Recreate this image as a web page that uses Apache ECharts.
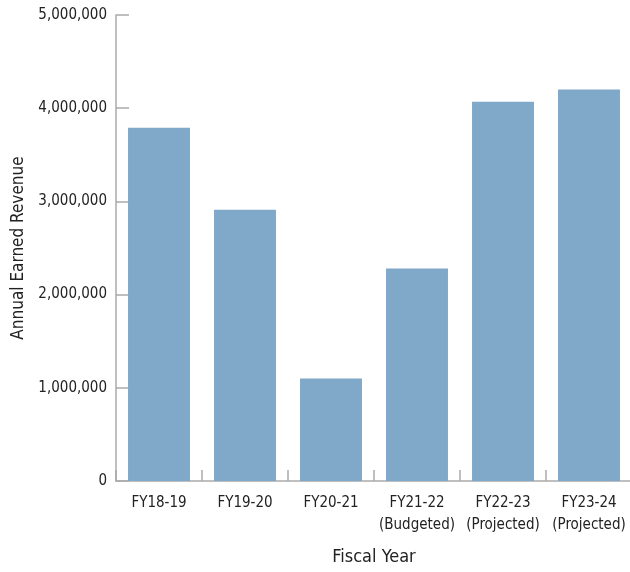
<!DOCTYPE html>
<html><head><meta charset="utf-8">
<script src="https://cdn.jsdelivr.net/npm/echarts@6/dist/echarts.min.js"></script>
<style>html,body{margin:0;padding:0;background:#fff}#c{width:630px;height:572px}</style>
</head><body><div id="c"></div>
<script>
const categories = ['FY18-19','FY19-20','FY20-21','FY21-22\n(Budgeted)','FY22-23\n(Projected)','FY23-24\n(Projected)'];
const revenue = [3790000, 2910000, 1100000, 2280000, 4070000, 4200000];
const yTicks = {min: 0, max: 5000000, interval: 1000000};
const FONT = '"DejaVu Sans Condensed","Liberation Sans Narrow",sans-serif';
const chart = echarts.init(document.getElementById('c'));
chart.setOption({
  animation: false,
  grid: {left: 116, right: -2, top: 15, bottom: 91, containLabel: false, outerBoundsMode: 'none'},
  xAxis: {
    type: 'category', data: categories,
    name: 'Fiscal Year', nameLocation: 'middle', nameGap: 67,
    nameTextStyle: {fontFamily: FONT, fontSize: 18, color: '#222'},
    axisLine: {lineStyle: {color: '#aaa', width: 1.5}},
    axisTick: {show: true, inside: true, length: 11, lineStyle: {color: '#aaa', width: 1.5}},
    axisLabel: {fontFamily: FONT, fontSize: 15, color: '#222', margin: 11, lineHeight: 22, interval: 0}
  },
  yAxis: {
    type: 'value', min: yTicks.min, max: yTicks.max, interval: yTicks.interval,
    name: 'Annual Earned Revenue', nameLocation: 'middle', nameGap: 88, nameRotate: 90,
    nameTextStyle: {fontFamily: FONT, fontSize: 17, color: '#222'},
    axisLine: {show: true, lineStyle: {color: '#aaa', width: 1.5}},
    axisTick: {show: true, inside: true, length: 13, lineStyle: {color: '#aaa', width: 1.5}},
    splitLine: {show: false},
    axisLabel: {fontFamily: FONT, fontSize: 15, color: '#222', margin: 9,
      formatter: v => v.toLocaleString('en-US')}
  },
  series: [{
    type: 'bar', data: revenue, barWidth: '72%',
    itemStyle: {color: '#80a8c9'}
  }]
});
</script></body></html>
